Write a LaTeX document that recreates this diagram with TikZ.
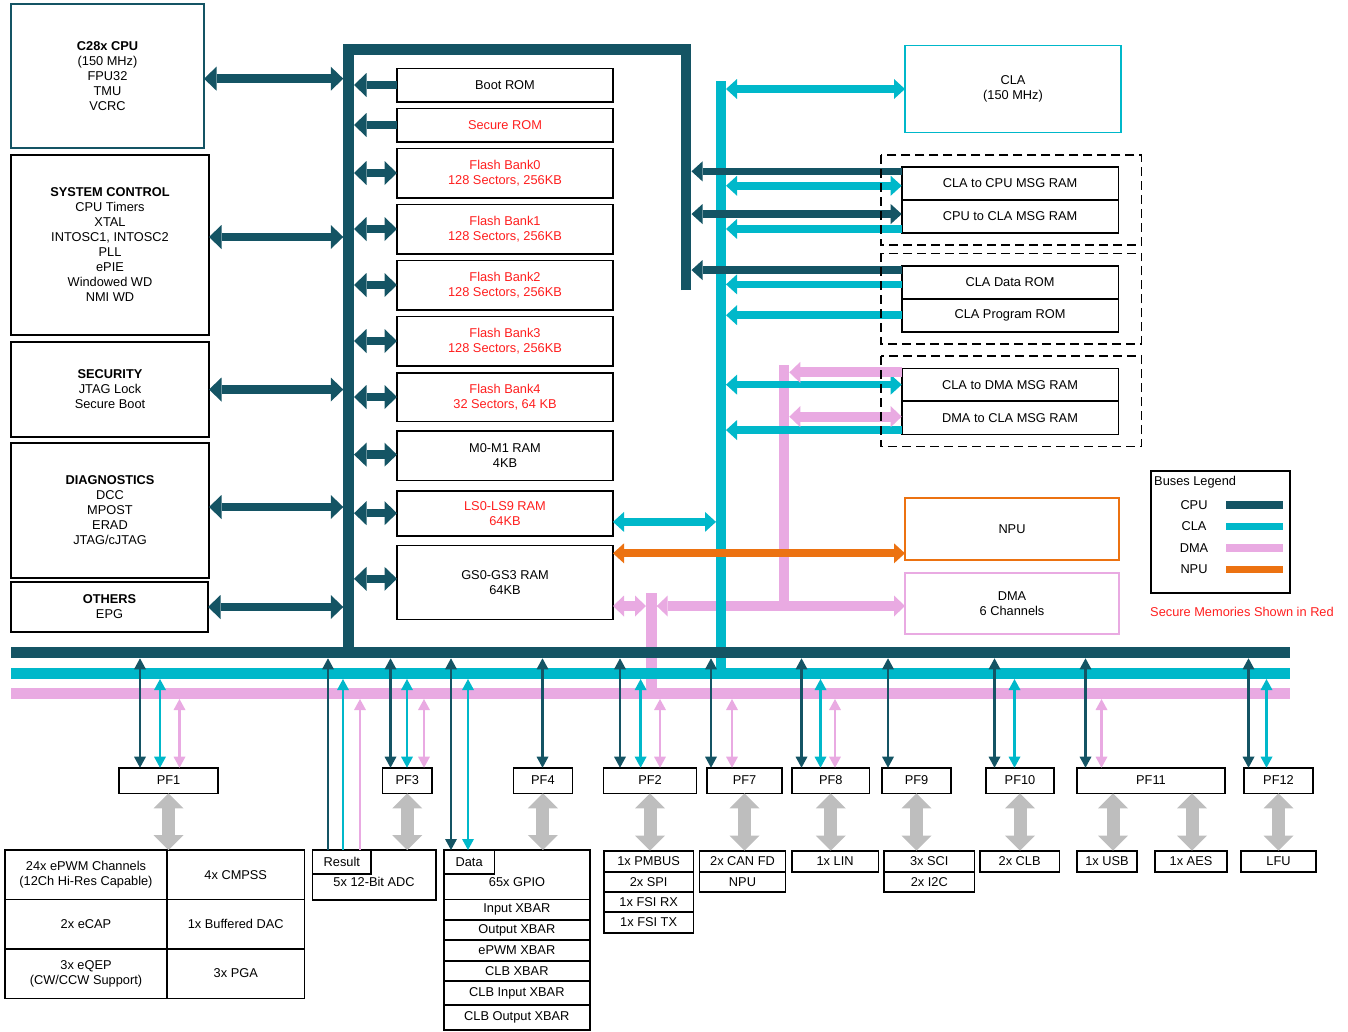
\documentclass[tikz,border=0pt]{standalone}
\usepackage{fontspec}
\setmainfont{Liberation Sans}
\usetikzlibrary{arrows.meta}
\definecolor{cpuc}{RGB}{20,84,100}
\definecolor{clac}{RGB}{0,184,202}
\definecolor{dmac}{RGB}{233,170,226}
\definecolor{npuc}{RGB}{236,114,17}
\definecolor{redc}{RGB}{255,30,30}
\definecolor{grayc}{RGB}{190,190,190}
\newcommand\mybox[7][]{\node[boxst,#1,minimum width={(#5-#3)*1pt},minimum height={(#6-#4)*1pt}] (#2) at ({(#3+#5)/2},{(#4+#6)/2}) {#7};}
\newcommand\myarr[4]{\coordinate (tmpx) at (#2,0); \draw[#1] (#3.north -| tmpx) -- (tmpx |- #4);}
\begin{document}
\begin{tikzpicture}[x=1pt,y=-1pt,
 font=\fontsize{12.8}{15}\selectfont,
 boxst/.style={draw=black,line width=1.6pt,inner sep=0pt,outer sep=0pt,align=center},
 Big/.tip={Triangle[width=24pt,length=12.5pt,line width=0pt]},
 Mid/.tip={Triangle[width=20pt,length=11pt,line width=0pt]},
 Pnk/.tip={Triangle[width=21pt,length=11pt,line width=0pt]},
 Thn/.tip={Triangle[width=12pt,length=11pt,line width=0pt]},
 Gry/.tip={Triangle[width=30pt,length=15pt,line width=0pt]},
 cpuD/.style={draw=cpuc,line width=8.5pt,Big-Big},
 cpuS/.style={draw=cpuc,line width=8.5pt,-Big},
 cpuRD/.style={draw=cpuc,line width=7.5pt,Mid-Mid},
 cpuRS/.style={draw=cpuc,line width=7.5pt,-Mid},
 claD/.style={draw=clac,line width=7.5pt,Mid-Mid},
 claS/.style={draw=clac,line width=7.5pt,-Mid},
 dmaD/.style={draw=dmac,line width=10pt,Pnk-Pnk},
 dmaS/.style={draw=dmac,line width=10pt,-Pnk},
 npuD/.style={draw=npuc,line width=8.3pt,Mid-Mid},
 thD/.style={line width=2.6pt,Thn-Thn},
 thU/.style={line width=2.6pt,-Thn},
 gryD/.style={draw=grayc,line width=13pt,Gry-Gry},
 bus/.style={line width=10.7pt},
 dashbox/.style={draw=black,line width=1.5pt,dash pattern=on 9pt off 5pt}
]
\useasboundingbox (0,0) rectangle (1348,1031);

% ---------- left boxes
\mybox[draw=cpuc,line width=1.3pt]{cpu}{11}{4}{204}{148}{\textbf{C28x CPU}\\(150 MHz)\\FPU32\\TMU\\VCRC}
\mybox{sys}{11}{155}{209}{335}{\textbf{SYSTEM CONTROL}\\CPU Timers\\XTAL\\INTOSC1, INTOSC2\\PLL\\ePIE\\Windowed WD\\NMI WD}
\mybox{sec}{11}{342}{209}{437}{\textbf{SECURITY}\\JTAG Lock\\Secure Boot}
\mybox{diag}{11}{443}{209}{578}{\textbf{DIAGNOSTICS}\\DCC\\MPOST\\ERAD\\JTAG/cJTAG}
\mybox{oth}{11}{582}{208}{632}{\textbf{OTHERS}\\EPG}

% ---------- memory boxes
\mybox{broom}{397}{68.3}{613}{101.7}{Boot ROM}
\mybox[text=redc]{srom}{397}{108.3}{613}{141.7}{Secure ROM}
\mybox[text=redc]{fb0}{397}{148.3}{613}{197.7}{Flash Bank0\\128 Sectors, 256KB}
\mybox[text=redc]{fb1}{397}{204.3}{613}{253.7}{Flash Bank1\\128 Sectors, 256KB}
\mybox[text=redc]{fb2}{397}{260.3}{613}{309.7}{Flash Bank2\\128 Sectors, 256KB}
\mybox[text=redc]{fb3}{397}{316.3}{613}{365.7}{Flash Bank3\\128 Sectors, 256KB}
\mybox[text=redc]{fb4}{397}{372.7}{613}{421.3}{Flash Bank4\\32 Sectors, 64 KB}
\mybox{m01}{397}{431}{613}{480.3}{M0-M1 RAM\\4KB}
\mybox[text=redc]{ls}{397}{490.7}{613}{535.7}{LS0-LS9 RAM\\64KB}
\mybox{gs}{397}{545.3}{613}{619.3}{GS0-GS3 RAM\\64KB}

% ---------- right side boxes
\mybox[draw=clac,line width=1.4pt]{cla}{905}{45.7}{1121}{132.3}{CLA\\(150 MHz)}
\mybox{c2c}{901.7}{166.7}{1118.3}{200}{CLA to CPU MSG RAM}
\mybox{p2c}{901.7}{200}{1118.3}{232.7}{CPU to CLA MSG RAM}
\mybox{cdr}{901.7}{266}{1118.3}{298.7}{CLA Data ROM}
\mybox{cpr}{901.7}{298.7}{1118.3}{331.7}{CLA Program ROM}
\mybox{c2d}{901.7}{368.3}{1118.3}{401}{CLA to DMA MSG RAM}
\mybox{d2c}{901.7}{401}{1118.3}{434.3}{DMA to CLA MSG RAM}
\mybox[draw=npuc,line width=1.4pt]{npu}{905}{498}{1119}{560}{NPU}
\mybox[draw=dmac,line width=1.4pt]{dma}{905}{573}{1119}{634}{DMA\\6 Channels}

% ---------- legend
\mybox[line width=1.4pt]{leg}{1151}{471}{1290}{593}{}
\node[anchor=west,inner sep=0pt] (legt) at (1154,482) {Buses Legend};
\node (lcpu) at (1194,505) {CPU};
\node (lcla) at (1194,526.5) {CLA};
\node (ldma) at (1194,548) {DMA};
\node (lnpu) at (1194,569.5) {NPU};
\draw[cpuc,line width=7.5pt] (1226,505) -- (1283,505);
\draw[clac,line width=7.5pt] (1226,526.5) -- (1283,526.5);
\draw[dmac,line width=7.5pt] (1226,548) -- (1283,548);
\draw[npuc,line width=7.5pt] (1226,569.5) -- (1283,569.5);
\node[anchor=west,inner sep=0pt,text=redc] (secnote) at (1150,612) {Secure Memories Shown in Red};

% ---------- PF boxes
\mybox{pf1}{119}{767.7}{218}{793.3}{PF1}
\mybox{pf3}{382.5}{767.7}{432}{793.3}{PF3}
\mybox{pf4}{513.5}{767.7}{572.3}{793.3}{PF4}
\mybox{pf2}{603.6}{767.7}{696.4}{793.3}{PF2}
\mybox{pf7}{707}{767.7}{782}{793.3}{PF7}
\mybox{pf8}{792}{767.7}{869.5}{793.3}{PF8}
\mybox{pf9}{882}{767.7}{951}{793.3}{PF9}
\mybox{pf10}{986}{767.7}{1054}{793.3}{PF10}
\mybox{pf11}{1077}{767.7}{1225}{793.3}{PF11}
\mybox{pf12}{1244}{767.7}{1313}{793.3}{PF12}

% ---------- peripherals
\mybox{epA}{5}{850}{167}{899.3}{24x ePWM Channels\\(12Ch Hi-Res Capable)}
\mybox{epB}{167}{850}{304.5}{899.3}{4x CMPSS}
\mybox{epC}{5}{899.3}{167}{948.7}{2x eCAP}
\mybox{epD}{167}{899.3}{304.5}{948.7}{1x Buffered DAC}
\mybox{epE}{5}{948.7}{167}{998.3}{3x eQEP\\(CW/CCW Support)}
\mybox{epF}{167}{948.7}{304.5}{998.3}{3x PGA}
\mybox{adc}{312.6}{850}{436}{900}{}
\mybox{res}{312.6}{850}{371}{874}{Result}
\node (adct) at (374,882) {5x 12-Bit ADC};
\mybox{gpio}{443.7}{850}{590}{899.3}{}
\mybox{dat}{443.7}{850}{494.5}{874}{Data}
\node (gpiot) at (517,882) {65x GPIO};
\mybox{ixb}{443.7}{899.3}{590}{920}{Input XBAR}
\mybox{oxb}{443.7}{920}{590}{940}{Output XBAR}
\mybox{pxb}{443.7}{940}{590}{960.7}{ePWM XBAR}
\mybox{cxb}{443.7}{960.7}{590}{980.7}{CLB XBAR}
\mybox{cixb}{443.7}{980.7}{590}{1005}{CLB Input XBAR}
\mybox{coxb}{443.7}{1005}{590}{1029.7}{CLB Output XBAR}
\mybox{pmb}{604}{850.7}{693.3}{871.7}{1x PMBUS}
\mybox{spi}{604}{871.7}{693.3}{891.7}{2x SPI}
\mybox{fsr}{604}{891.7}{693.3}{911.7}{1x FSI RX}
\mybox{fst}{604}{911.7}{693.3}{932.7}{1x FSI TX}
\mybox{can}{699.5}{850.7}{785.5}{871.7}{2x CAN FD}
\mybox{npb}{699.5}{871.7}{785.5}{891.7}{NPU}
\mybox{lin}{791.7}{850.7}{878.5}{871.7}{1x LIN}
\mybox{sci}{884}{850.7}{974.5}{871.7}{3x SCI}
\mybox{i2c}{884}{871.7}{974.5}{891.7}{2x I2C}
\mybox{clb}{980}{850.7}{1059.3}{871.7}{2x CLB}
\mybox{usb}{1077}{850.7}{1137}{871.7}{1x USB}
\mybox{aes}{1155}{850.7}{1227}{871.7}{1x AES}
\mybox{lfu}{1241}{850.7}{1316}{871.7}{LFU}

% ---------- bus reference coordinates
\coordinate (bLl) at (343.3,0);
\coordinate (bLr) at (354,0);
\coordinate (bRr) at (691.5,0);
\coordinate (cLl) at (716,0);
\coordinate (cLr) at (726,0);
\coordinate (pMr) at (789.3,0);
\coordinate (pLl) at (646,0);
\coordinate (pLr) at (656.7,0);
\coordinate (pkY) at (0,606);
\coordinate (cpuB) at (0,658.3);
\coordinate (claB) at (0,679);
\coordinate (dmaB) at (0,699);

% ---------- DMA bus
\draw[dmac,line width=10pt] (784,365) -- (784,611);
\draw[dmaD] (pLr |- pkY) -- (dma.west |- pkY);
\draw[dmaD] (gs.east |- pkY) -- (pLl |- pkY);
\draw[dmac,bus] (651.3,593.3) -- (651.3,693.7);
\draw[dmac,bus] (11,693.7) -- (1290,693.7);
% ---------- CLA bus
\draw[clac,line width=10pt] (721,81) -- (721,673.7);
\draw[clac,bus] (11,673.7) -- (1290,673.7);
% ---------- CPU bus
\draw[cpuc,line width=10.5pt] (686,290) -- (686,49.7) -- (348.5,49.7) -- (348.5,652.8);
\draw[cpuc,line width=11pt] (11,652.8) -- (1290,652.8);

% ---------- thin peripheral arrows
\myarr{thD,cpuc}{140}{pf1}{cpuB}
\myarr{thD,clac}{160}{pf1}{claB}
\myarr{thD,dmac}{179.5}{pf1}{dmaB}
\myarr{thU,cpuc}{328}{res}{cpuB}
\myarr{thU,clac}{343}{res}{claB}
\myarr{thU,dmac}{360}{res}{dmaB}
\myarr{thD,cpuc}{390.5}{pf3}{cpuB}
\myarr{thD,clac}{407}{pf3}{claB}
\myarr{thD,dmac}{424}{pf3}{dmaB}
\myarr{thD,cpuc}{451}{dat}{cpuB}
\myarr{thD,clac}{468}{dat}{claB}
\myarr{thD,cpuc}{542.5}{pf4}{cpuB}
\myarr{thD,cpuc}{620}{pf2}{cpuB}
\myarr{thD,clac}{640.6}{pf2}{claB}
\myarr{thD,dmac}{660}{pf2}{dmaB}
\myarr{thD,cpuc}{711}{pf7}{cpuB}
\myarr{thD,dmac}{732}{pf7}{dmaB}
\myarr{thD,cpuc}{801.5}{pf8}{cpuB}
\myarr{thD,clac}{820.5}{pf8}{claB}
\myarr{thD,dmac}{835}{pf8}{dmaB}
\myarr{thD,cpuc}{888}{pf9}{cpuB}
\myarr{thD,cpuc}{994.5}{pf10}{cpuB}
\myarr{thD,clac}{1014.5}{pf10}{claB}
\myarr{thD,cpuc}{1085.5}{pf11}{cpuB}
\myarr{thD,dmac}{1101.5}{pf11}{dmaB}
\myarr{thD,cpuc}{1248.5}{pf12}{cpuB}
\myarr{thD,clac}{1266.5}{pf12}{claB}

% ---------- gray arrows
\draw[gryD] (pf1.south) -- (pf1.south |- epA.north);
\draw[gryD] (pf3.south) -- (pf3.south |- adc.north);
\draw[gryD] (pf4.south) -- (pf4.south |- gpio.north);
\draw[gryD] (pf2.south) -- (pf2.south |- pmb.north);
\draw[gryD] (pf7.south) -- (pf7.south |- can.north);
\draw[gryD] (pf8.south) -- (pf8.south |- lin.north);
\draw[gryD] (pf9.south) -- (pf9.south |- sci.north);
\draw[gryD] (pf10.south) -- (pf10.south |- clb.north);
\coordinate (gU) at (1113,0);
\coordinate (gA) at (1192,0);
\draw[gryD] (pf11.south -| gU) -- (gU |- usb.north);
\draw[gryD] (pf11.south -| gA) -- (gA |- aes.north);
\draw[gryD] (pf12.south) -- (pf12.south |- lfu.north);

% ---------- CLA / DMA / NPU arrows
\draw[claD] (cla.west -| cLr) -- (cla.west);
\draw[claD] ([yshift=-2.4pt]c2c.west -| cLr) -- ([yshift=-2.4pt]c2c.west);
\draw[claS] ([yshift=-12.6pt]p2c.west) -- ([yshift=-12.6pt]p2c.west -| cLr);
\draw[claS] ([yshift=-2pt]cdr.west) -- ([yshift=-2pt]cdr.west -| cLr);
\draw[claS] (cpr.west) -- (cpr.west -| cLr);
\draw[claD] (c2d.west -| cLr) -- (c2d.west);
\draw[claS] ([yshift=-12.4pt]d2c.west) -- ([yshift=-12.4pt]d2c.west -| cLr);
\draw[dmaS] ([yshift=12.3pt]c2d.west) -- ([yshift=12.3pt]c2d.west -| pMr);
\draw[dmaD] ([yshift=1pt]d2c.west -| pMr) -- ([yshift=1pt]d2c.west);
\draw[claD] ([yshift=-8.7pt]ls.east) -- ([yshift=-8.7pt]ls.east -| cLl);
\draw[npuD] ([yshift=-8pt]gs.north east) -- ([yshift=-8pt]gs.north east -| npu.west);

% ---------- CPU bus arrows
\draw[cpuD] ([yshift=-2.7pt]cpu.east) -- ([yshift=-2.7pt]cpu.east -| bLl);
\draw[cpuD] ([yshift=8pt]sys.east) -- ([yshift=8pt]sys.east -| bLl);
\draw[cpuD] (sec.east) -- (sec.east -| bLl);
\draw[cpuD] ([yshift=3.5pt]diag.east) -- ([yshift=3.5pt]diag.east -| bLl);
\draw[cpuD] (oth.east) -- (oth.east -| bLl);
\draw[cpuS] (broom.west) -- (broom.west -| bLr);
\draw[cpuS] (srom.west) -- (srom.west -| bLr);
\draw[cpuD] (fb0.west -| bLr) -- (fb0.west);
\draw[cpuD] (fb1.west -| bLr) -- (fb1.west);
\draw[cpuD] (fb2.west -| bLr) -- (fb2.west);
\draw[cpuD] (fb3.west -| bLr) -- (fb3.west);
\draw[cpuD] (fb4.west -| bLr) -- (fb4.west);
\draw[cpuD] ([yshift=1pt]m01.west -| bLr) -- ([yshift=1pt]m01.west);
\draw[cpuD] (ls.west -| bLr) -- (ls.west);
\draw[cpuD] ([yshift=3.5pt]gs.west -| bLr) -- ([yshift=3.5pt]gs.west);
\draw[cpuRS] ([yshift=12pt]c2c.west) -- ([yshift=12pt]c2c.west -| bRr);
\draw[cpuRD] ([yshift=2.3pt]p2c.west -| bRr) -- ([yshift=2.3pt]p2c.west);
\draw[cpuRS] ([yshift=12.3pt]cdr.west) -- ([yshift=12.3pt]cdr.west -| bRr);

% ---------- dashed groups
\draw[dashbox] (881,155) rectangle (1141.7,245);
\draw[dashbox] (881,253.3) rectangle (1141.7,344);
\draw[dashbox] (881,356) rectangle (1141.7,446.7);
\end{tikzpicture}
\end{document}
